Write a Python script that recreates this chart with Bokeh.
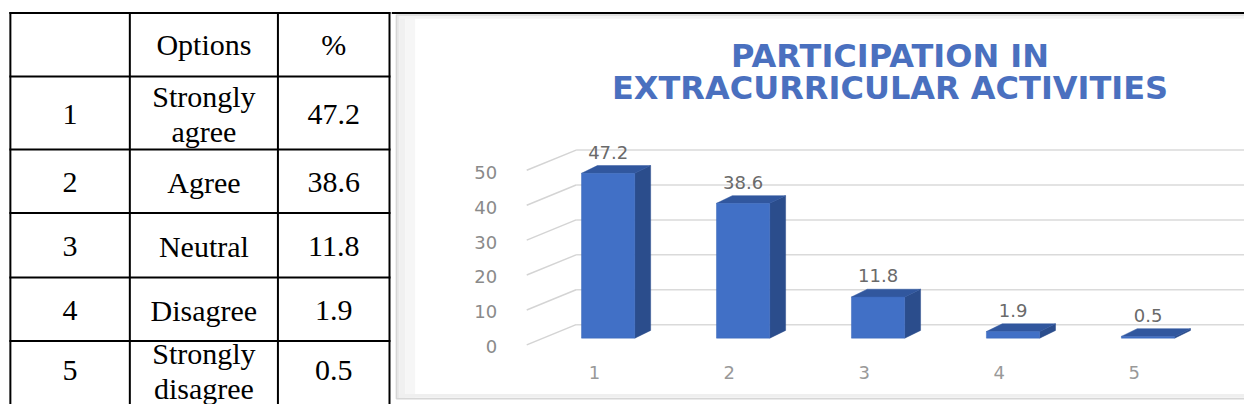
import numpy as np
from bokeh.plotting import figure
from bokeh.layouts import row
from bokeh.models import Range1d, Span
from bokeh.core.properties import value
from bokeh.embed import file_html
from bokeh.resources import INLINE

# ---------------- data ----------------
row_ids = ["1", "2", "3", "4", "5"]
options = ["Strongly\nagree", "Agree", "Neutral", "Disagree", "Strongly\ndisagree"]
percent_labels = ["47.2", "38.6", "11.8", "1.9", "0.5"]
header = ["", "Options", "%"]

categories = [1, 2, 3, 4, 5]
cat_labels = ["1", "2", "3", "4", "5"]
percents = [47.2, 38.6, 11.8, 1.9, 0.5]
y_ticks = [0, 10, 20, 30, 40, 50]
tick_labels = ["0", "10", "20", "30", "40", "50"]
title_lines = ["PARTICIPATION IN", "EXTRACURRICULAR ACTIVITIES"]

# ---------------- layout constants (reference-image px) ----------------
REF_W, REF_H = 1260, 420
TOTAL_W, H = 1244, 404
SX, SY = TOTAL_W / REF_W, H / REF_H
SPLIT = 396                      # reference x where the chart cell begins
TABLE_W = round(SPLIT * SX)
CHART_W = TOTAL_W - TABLE_W
col_edges = [10, 131, 281, 394]
row_edges = [13, 79, 155, 221, 288, 354, 414]

SERIF = value("Liberation Serif")
SANS = value("DejaVu Sans")

# ---------------- table figure ----------------
t = figure(width=TABLE_W, height=H, x_range=Range1d(0, TABLE_W / SX),
           y_range=Range1d(REF_H, 0), output_backend="svg",
           toolbar_location=None, min_border=0)
t.axis.visible = False
t.grid.visible = False
t.outline_line_color = None
t.background_fill_color = "white"

x0s, y0s, x1s, y1s = [], [], [], []
for cx in col_edges:
    x0s.append(cx); x1s.append(cx); y0s.append(row_edges[0] - 1); y1s.append(REF_H + 10)
for ry in row_edges[:-1]:
    x0s.append(col_edges[0] - 1); x1s.append(col_edges[-1] + 1); y0s.append(ry); y1s.append(ry)
t.segment(x0=x0s, y0=y0s, x1=x1s, y1=y1s, line_color="black", line_width=2)

col_centers = [(col_edges[i] + col_edges[i + 1]) / 2 for i in range(3)]
row_centers = [(row_edges[i] + row_edges[i + 1]) / 2 for i in range(6)]

tx, ty, tt = [], [], []
for j, h in enumerate(header):
    if h:
        tx.append(col_centers[j]); ty.append(row_centers[0]); tt.append(h)
for i in range(len(row_ids)):
    for j, s in enumerate([row_ids[i], options[i], percent_labels[i]]):
        tx.append(col_centers[j]); ty.append(row_centers[i + 1] + 1); tt.append(s)
t.text(x=tx, y=ty, text=tt, text_font=SERIF, text_font_size="30px",
       text_align="center", text_baseline="middle", text_color="black",
       text_line_height=1.05)

# ---------------- chart figure ----------------
X0, CAT_PX = 615.5, 136.7      # ref px of category 1 centre, px per category
Y0, UNIT_PX = 351.0, 3.63      # ref px of value 0 (front), px per unit


def px2x(px):
    return 1 + (px - X0) / CAT_PX


def py2v(py):
    return (Y0 - py) / UNIT_PX


c = figure(width=CHART_W, height=H,
           x_range=Range1d(px2x(TABLE_W / SX), px2x(REF_W)),
           y_range=Range1d(py2v(REF_H), py2v(0)),
           output_backend="svg", toolbar_location=None, min_border=0)
c.axis.visible = False
c.grid.visible = False
c.outline_line_color = None
c.background_fill_color = "white"

# chart area box with soft shadow
shadow = [("#e9e9e9", 401, 404), ("#f0f0f0", 404, 410), ("#f6f6f6", 410, 420)]
for col, a, b in shadow:
    c.quad(left=px2x(a), right=px2x(b), top=py2v(16), bottom=py2v(414),
           fill_color=col, line_color=None)
c.quad(left=px2x(401), right=px2x(1290), top=py2v(15), bottom=py2v(414),
       fill_color=None, line_color="#d6d6d6", line_width=1.5)
c.quad(left=px2x(404), right=px2x(1290), top=py2v(16), bottom=py2v(19),
       fill_color="#f3f3f3", line_color=None)
c.quad(left=px2x(404), right=px2x(1290), top=py2v(409), bottom=py2v(413),
       fill_color="#efefef", line_color=None)

# top table border across the chart cell
c.add_layout(Span(location=py2v(13), dimension="width", line_color="black", line_width=2))

# 3-D back gridlines and oblique wall lines
BACK = 14 / UNIT_PX
gx0 = px2x(583)
gx1 = px2x(1290)
ox0 = px2x(533)
OFF = -7 / UNIT_PX
c.segment(x0=[gx0] * len(y_ticks), y0=[v + BACK for v in y_ticks],
          x1=[gx1] * len(y_ticks), y1=[v + BACK for v in y_ticks],
          line_color="#dadada", line_width=1.5)
c.segment(x0=[ox0] * len(y_ticks), y0=[v + OFF for v in y_ticks],
          x1=[gx0] * len(y_ticks), y1=[v + BACK for v in y_ticks],
          line_color="#d4d4d4", line_width=1.5)

# y tick labels
c.text(x=[px2x(503)] * len(y_ticks), y=[v - 9 / UNIT_PX for v in y_ticks], text=tick_labels,
       text_font=SANS, text_font_size="18px", text_color="#8a8a8a",
       text_align="right", text_baseline="middle")

# 3-D bars
HW = 27 / CAT_PX
DX = 16 / CAT_PX
DY = 8 / UNIT_PX
side_x, side_y, top_x, top_y = [], [], [], []
for xc, v in zip(categories, percents):
    l, r = xc - HW, xc + HW
    side_x.append([r, r + DX, r + DX, r]); side_y.append([0, DY, v + DY, v])
    top_x.append([l, r, r + DX, l + DX]); top_y.append([v, v, v + DY, v + DY])
c.patches(xs=side_x, ys=side_y, fill_color="#2B4D8C", line_color="#2B4D8C", line_width=0.5)
c.patches(xs=top_x, ys=top_y, fill_color="#31579E", line_color="#31579E", line_width=0.5)
c.quad(left=[x - HW for x in categories], right=[x + HW for x in categories],
       bottom=[0] * len(categories), top=percents,
       fill_color="#4170C6", line_color="#3A66B8", line_width=0.5)

# value labels
c.text(x=categories, y=[v + 22 / UNIT_PX for v in percents], text=percent_labels,
       text_font=SANS, text_font_size="18px", text_color="#6a6a6a",
       text_align="center", text_baseline="middle")

# category labels
c.text(x=[x - 14 / CAT_PX for x in categories], y=[py2v(387)] * len(categories), text=cat_labels,
       text_font=SANS, text_font_size="18px", text_color="#999999",
       text_align="center", text_baseline="middle")

# title
c.text(x=[px2x(901)] * 2, y=[py2v(58), py2v(91)], text=title_lines,
       text_font=SANS, text_font_style="bold", text_font_size="32px",
       text_color="#4A70BF", text_align="center", text_baseline="middle")

layout = row(t, c, spacing=0)
open("out.html", "w").write(file_html(layout, INLINE))
